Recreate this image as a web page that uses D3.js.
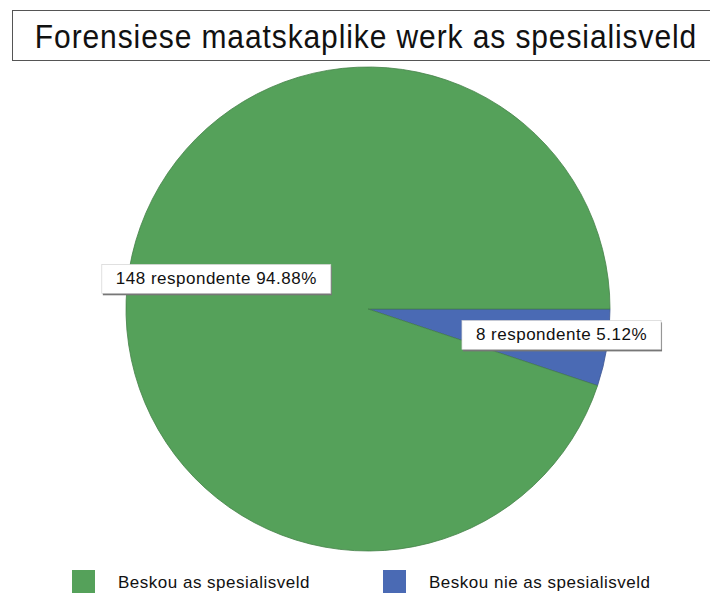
<!DOCTYPE html>
<html>
<head>
<meta charset="utf-8">
<script src="https://cdn.jsdelivr.net/npm/d3@7"></script>
<style>
  body { margin: 0; background: #fff; }
  svg { display: block; font-family: "Liberation Sans", Arial, sans-serif; }
</style>
</head>
<body>
<svg id="chart" width="710" height="593"></svg>
<script>
// data
const categories = ['Beskou as spesialisveld', 'Beskou nie as spesialisveld'];
const counts = [148, 8];
const percents = ['94.88%', '5.12%'];
const colors = ['#55a15a', '#4a6ab4'];

const width = 710, height = 593;
const svg = d3.select('#chart');

// title box
svg.append('rect')
    .attr('x', 12.5).attr('y', 10.5)
    .attr('width', 710).attr('height', 50)
    .attr('fill', '#fff')
    .attr('stroke', '#555')
    .attr('stroke-width', 1);
svg.append('text')
    .attr('transform', 'translate(366,48) scale(1,1.12)')
    .attr('text-anchor', 'middle')
    .attr('font-size', 30)
    .attr('letter-spacing', 0.9)
    .attr('fill', '#111')
    .text('Forensiese maatskaplike werk as spesialisveld');

// pie
const cx = 368, cy = 309, radius = 242;
const g = svg.append('g').attr('transform', `translate(${cx},${cy})`);

const slices = categories.map((c, i) => ({ name: c, value: counts[i], pct: percents[i], color: colors[i] }));

// blue slice starts at 3 o'clock, running clockwise, green fills the rest
const pie = d3.pie()
    .sort(null)
    .value(d => d.value)
    .startAngle(Math.PI / 2)
    .endAngle(Math.PI / 2 + 2 * Math.PI);

const arcs = pie([slices[1], slices[0]]);
const arc = d3.arc().innerRadius(0).outerRadius(radius);

g.selectAll('path.slice')
    .data(arcs)
    .enter()
    .append('path')
    .attr('class', 'slice')
    .attr('d', arc)
    .attr('fill', d => d.data.color)
    .attr('stroke', d => d3.color(d.data.color).darker(0.6))
    .attr('stroke-width', 0.8);

// labels: small slice label sits further out
const labelArc = d => d3.arc().innerRadius(0).outerRadius(d.data === slices[1] ? radius * 1.62 : radius * 1.27);

const labels = g.selectAll('g.lbl')
    .data(arcs)
    .enter()
    .append('g')
    .attr('class', 'lbl')
    .attr('transform', d => {
        const [x, y] = labelArc(d).centroid(d);
        return `translate(${x},${y - 6})`;
    });

labels.each(function (d) {
    const sel = d3.select(this);
    const t = sel.append('text')
        .attr('text-anchor', 'middle')
        .attr('dy', '0.35em')
        .attr('font-size', 17)
        .attr('letter-spacing', 0.5)
        .attr('fill', '#111')
        .text(`${d.data.value} respondente ${d.data.pct}`);
    const bb = t.node().getBBox();
    const padX = 14, padY = 5;
    // shadow line under box
    sel.insert('rect', 'text')
        .attr('x', bb.x - padX + 1).attr('y', bb.y - padY + 2)
        .attr('width', bb.width + padX * 2).attr('height', bb.height + padY * 2)
        .attr('fill', '#777');
    sel.insert('rect', 'text')
        .attr('x', bb.x - padX).attr('y', bb.y - padY)
        .attr('width', bb.width + padX * 2).attr('height', bb.height + padY * 2)
        .attr('fill', '#fff')
        .attr('stroke', '#ccc')
        .attr('stroke-width', 0.6);
});

// legend
const legendX = d3.scalePoint().domain(categories).range([72, 383]);
const legend = svg.selectAll('g.legend')
    .data(slices)
    .enter()
    .append('g')
    .attr('class', 'legend')
    .attr('transform', d => `translate(${legendX(d.name)},570)`);

legend.append('rect')
    .attr('width', 23).attr('height', 26)
    .attr('fill', d => d.color);
legend.append('text')
    .attr('x', 46).attr('y', 18)
    .attr('font-size', 17)
    .attr('letter-spacing', 0.5)
    .attr('fill', '#111')
    .text(d => d.name);
</script>
</body>
</html>
